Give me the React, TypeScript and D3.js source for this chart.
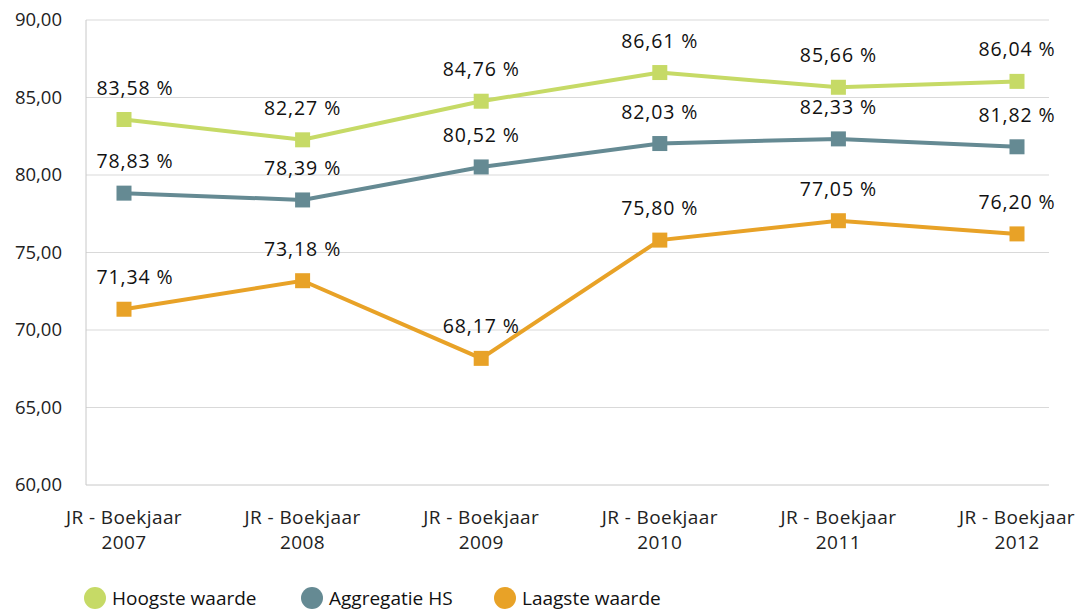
import React from "react";
import * as d3 from "d3";

const categories = ["2007", "2008", "2009", "2010", "2011", "2012"];
const hoogste = [83.58, 82.27, 84.76, 86.61, 85.66, 86.04];
const aggregatie = [78.83, 78.39, 80.52, 82.03, 82.33, 81.82];
const laagste = [71.34, 73.18, 68.17, 75.8, 77.05, 76.2];
const yTicks = [60, 65, 70, 75, 80, 85, 90];
const seriesNames = ["Hoogste waarde", "Aggregatie HS", "Laagste waarde"];
const colors = ["#c6da66", "#658a93", "#e8a227"];

const W = 1076;
const H = 610;
const plotLeft = 86;
const plotRight = 1049;
const fmt = (v: number) => v.toFixed(2).replace(".", ",");

export default function App() {
  const x = d3.scalePoint<string>().domain(categories).range([124, 1017]);
  const y = d3.scaleLinear().domain([60, 90]).range([485, 20]);
  const line = d3
    .line<number>()
    .x((_, i) => x(categories[i]) as number)
    .y((d) => y(d));
  const series = [hoogste, aggregatie, laagste];
  const font = "'Open Sans', 'Noto Sans', sans-serif";
  const legendX = [95, 312, 505];
  const labelHalf = 38;

  return (
    <svg
      width={W}
      height={H}
      style={{ position: "absolute", left: 0, top: 0, fontFamily: font }}
    >
      <rect width={W} height={H} fill="#fff" />
      {yTicks.map((t) => (
        <g key={t}>
          <line
            x1={plotLeft}
            x2={plotRight}
            y1={y(t)}
            y2={y(t)}
            stroke={t === 60 ? "#c8c8c8" : "#d9d9d9"}
            strokeWidth={1}
          />
          <text
            x={62}
            y={y(t)}
            dy="0.35em"
            textAnchor="end"
            fontSize={18.5}
            fill="#222"
          >
            {fmt(t)}
          </text>
        </g>
      ))}
      <line x1={plotLeft} x2={plotLeft} y1={y(90)} y2={y(60)} stroke="#c8c8c8" strokeWidth={1} />
      {categories.map((c) => (
        <text key={c} x={x(c)} textAnchor="middle" fontSize={19} letterSpacing={0.4} fill="#222">
          <tspan x={x(c)} y={524}>JR - Boekjaar</tspan>
          <tspan x={x(c)} y={549}>{c}</tspan>
        </text>
      ))}
      {series.map((s, si) => (
        <g key={si}>
          <path d={line(s) || ""} fill="none" stroke={colors[si]} strokeWidth={4} />
          {s.map((v, i) => (
            <rect
              key={i}
              x={(x(categories[i]) as number) - 7.5}
              y={y(v) - 7.5}
              width={15}
              height={15}
              fill={colors[si]}
            />
          ))}
          {s.map((v, i) => {
            const cx = Math.max(x(categories[i]) as number, plotLeft + 11 + labelHalf);
            return (
              <text
                key={"l" + i}
                x={cx}
                y={y(v) - 25}
                textAnchor="middle"
                fontSize={19.5}
                letterSpacing={0.9}
                fill="#111"
              >
                {fmt(v) + " %"}
              </text>
            );
          })}
        </g>
      ))}
      {seriesNames.map((n, i) => (
        <g key={n}>
          <circle cx={legendX[i]} cy={598} r={11} fill={colors[i]} />
          <text x={legendX[i] + 17} y={598} dy="0.35em" fontSize={19} fill="#111">
            {n}
          </text>
        </g>
      ))}
    </svg>
  );
}
